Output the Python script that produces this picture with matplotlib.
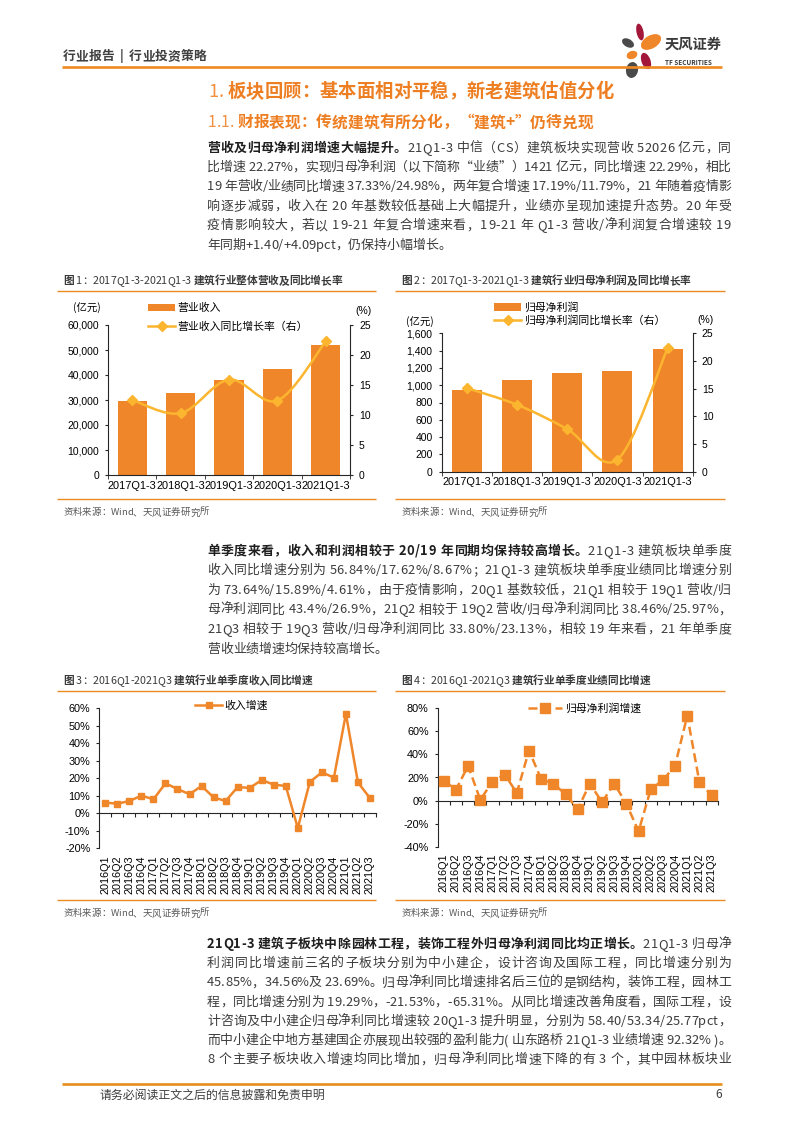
import numpy as np
import matplotlib
matplotlib.use('Agg')
import matplotlib.pyplot as plt
from matplotlib.font_manager import FontProperties
from matplotlib.lines import Line2D
from matplotlib.patches import Ellipse, PathPatch
from matplotlib.path import Path
from matplotlib.ticker import FuncFormatter

# 数据
years = ['2017Q1-3', '2018Q1-3', '2019Q1-3', '2020Q1-3', '2021Q1-3']
revenue = [29700, 32900, 38000, 42600, 52026]          # 营业收入（亿元）
revenue_yoy = [12.5, 10.3, 15.9, 12.4, 22.27]          # 营业收入同比（%）
profit = [945, 1060, 1141, 1162, 1421]                 # 归母净利润（亿元）
profit_yoy = [15.1, 12.1, 7.7, 2.2, 22.29]             # 归母净利润同比（%）

quarters = ['2016Q1', '2016Q2', '2016Q3', '2016Q4', '2017Q1', '2017Q2', '2017Q3', '2017Q4',
            '2018Q1', '2018Q2', '2018Q3', '2018Q4', '2019Q1', '2019Q2', '2019Q3', '2019Q4',
            '2020Q1', '2020Q2', '2020Q3', '2020Q4', '2021Q1', '2021Q2', '2021Q3']
rev_q_yoy = [6.1, 5.5, 7.0, 10.1, 8.0, 17.1, 13.9, 10.9, 15.6, 9.1, 7.0, 15.0,
             14.5, 19.0, 16.4, 15.6, -8.4, 17.9, 23.4, 20.4, 56.84, 17.62, 8.67]
profit_q_yoy = [17.1, 9.5, 30.1, 0.6, 16.5, 22.6, 6.7, 43.4, 18.5, 14.7, 5.5, -7.5,
                14.7, -1.4, 14.7, -2.9, -26.6, 9.8, 17.6, 30.4, 73.64, 15.89, 4.61]

CJK = ['Noto Sans CJK SC', 'DejaVu Sans']
LAT = ['Liberation Sans', 'Noto Sans CJK SC', 'DejaVu Sans']
plt.rcParams['font.family'] = LAT
plt.rcParams['axes.unicode_minus'] = False

ORANGE = '#F0862A'
GOLD = '#FBB52F'
RULE = '#EE8A22'
TEXT = '#3C3C3C'
DARK = '#1E1E1E'
AXC = '#262626'

W, H = 793, 1122
fig = plt.figure(figsize=(W / 100, H / 100), dpi=100)
page = fig.add_axes([0, 0, 1, 1])
page.set_xlim(0, W)
page.set_ylim(H, 0)
page.axis('off')
R = fig.canvas.get_renderer()


def box(l, t, r, b):
    return [l / W, 1 - b / H, (r - l) / W, (b - t) / H]


_adv = {}


def advance(ch, size, weight):
    key = (ch, size, weight)
    if key not in _adv:
        fp = FontProperties(family=CJK, size=size, weight=weight)
        w1 = R.get_text_width_height_descent('x' + ch + 'x', fp, ismath=False)[0]
        w0 = R.get_text_width_height_descent('xx', fp, ismath=False)[0]
        _adv[key] = w1 - w0
    return _adv[key]


def rich(x, yc, segs, size, right=None):
    # segs: (文本, 粗细, 颜色)；按字符排布，可两端对齐
    chars = [(ch, wt, col) for txt, wt, col in segs for ch in txt]
    advs = [advance(ch, size, wt) for ch, wt, _ in chars]
    extra = 0
    if right is not None and len(chars) > 1:
        extra = (right - x - sum(advs)) / (len(chars) - 1)
    y = yc + 0.36 * size * 100 / 72
    cx = x
    for (ch, wt, col), a in zip(chars, advs):
        if ch != ' ':
            page.text(cx, y, ch, fontsize=size, fontweight=wt, color=col,
                      family=CJK, ha='left', va='baseline')
        cx += a + extra


def para(x, y0, step, lines, size=9.3, right=731, last_ragged=True):
    for i, ln in enumerate(lines):
        if isinstance(ln, str):
            ln = [(ln, 'normal', TEXT)]
        r = None if (last_ragged and i == len(lines) - 1) else right
        rich(x, y0 + i * step, ln, size, right=r)


def rule(x0, x1, y, lw=1.0, color=RULE):
    page.plot([x0, x1], [y, y], color=color, lw=lw, solid_capstyle='butt')


# 页眉
rich(63, 55.7, [('行业报告  |  行业投资策略', 'bold', '#404040')], 9.2)
rule(62, 722, 67, lw=1.9)
for (cx, cy, w, h, a, c) in [(640, 32, 7, 17, -12, '#A3173A'), (628, 43, 13, 8, 30, '#4A4A4A'),
                             (651, 42, 22, 13, -30, ORANGE), (632, 55, 11, 8, -20, ORANGE),
                             (646, 61, 9, 17, -20, '#A3173A'), (632, 70, 12, 16, 10, '#4A4A4A')]:
    page.add_patch(Ellipse((cx, cy), w, h, angle=a, color=c, lw=0))
page.text(665, 45, '天风证券', fontsize=10.3, fontweight='bold', color='#3A3A3A',
          family=CJK, ha='left', va='center')
page.text(665, 62, 'TF SECURITIES', fontsize=4.6, fontweight='bold', color='#3A3A3A',
          family=CJK, ha='left', va='center')

# 标题
rich(208, 90, [('1. ', 'normal', '#F09040'),
               ('板块回顾：基本面相对平稳，新老建筑估值分化', 'bold', '#EE7E22')], 13.2)
rich(208, 121.7, [('1.1. ', 'normal', '#F09040'),
                  ('财报表现：传统建筑有所分化，“建筑+”仍待兑现', 'bold', '#EE7E22')], 11.3)

# 正文 1
para(207, 147, 19.4, [
    [('营收及归母净利润增速大幅提升。', 'bold', DARK),
     ('21Q1-3 中信（CS）建筑板块实现营收 52026 亿元，同', 'normal', TEXT)],
    '比增速 22.27%，实现归母净利润（以下简称“业绩”）1421 亿元，同比增速 22.29%，相比',
    '19 年营收/业绩同比增速 37.33%/24.98%，两年复合增速 17.19%/11.79%，21 年随着疫情影',
    '响逐步减弱，收入在 20 年基数较低基础上大幅提升，业绩亦呈现加速提升态势。20 年受',
    '疫情影响较大，若以 19-21 年复合增速来看，19-21 年 Q1-3 营收/净利润复合增速较 19',
    '年同期+1.40/+4.09pct，仍保持小幅增长。',
])

# 正文 2
para(207, 550, 19.6, [
    [('单季度来看，收入和利润相较于 20/19 年同期均保持较高增长。', 'bold', DARK),
     ('21Q1-3 建筑板块单季度', 'normal', TEXT)],
    '收入同比增速分别为 56.84%/17.62%/8.67%；21Q1-3 建筑板块单季度业绩同比增速分别',
    '为 73.64%/15.89%/4.61%，由于疫情影响，20Q1 基数较低，21Q1 相较于 19Q1 营收/归',
    '母净利润同比 43.4%/26.9%，21Q2 相较于 19Q2 营收/归母净利润同比 38.46%/25.97%，',
    '21Q3 相较于 19Q3 营收/归母净利润同比 33.80%/23.13%，相较 19 年来看，21 年单季度',
    '营收业绩增速均保持较高增长。',
])

# 正文 3
para(207, 943, 19.3, [
    [('21Q1-3 建筑子板块中除园林工程，装饰工程外归母净利润同比均正增长。', 'bold', DARK),
     ('21Q1-3 归母净', 'normal', TEXT)],
    '利润同比增速前三名的子板块分别为中小建企，设计咨询及国际工程，同比增速分别为',
    '45.85%，34.56%及 23.69%。归母净利同比增速排名后三位的是钢结构，装饰工程，园林工',
    '程，同比增速分别为 19.29%，-21.53%，-65.31%。从同比增速改善角度看，国际工程，设',
    '计咨询及中小建企归母净利同比增速较 20Q1-3 提升明显，分别为 58.40/53.34/25.77pct，',
    '而中小建企中地方基建国企亦展现出较强的盈利能力( 山东路桥 21Q1-3 业绩增速 92.32% )。',
    '8 个主要子板块收入增速均同比增加，归母净利同比增速下降的有 3 个，其中园林板块业',
], last_ragged=False)

# 页脚
rule(62, 722, 1084, lw=1.9, color='#E58E1C')
page.text(100, 1095, '请务必阅读正文之后的信息披露和免责申明', fontsize=8.6, color='#404040',
          family=CJK, ha='left', va='center')
page.text(722, 1095, '6', fontsize=8.6, color='#404040', family=CJK, ha='right', va='center')


# 图表框架
def frame(x0, x1, ytitle, ybottom, segs):
    rule(x0, x1, ytitle + 11)
    rule(x0, x1, ybottom)
    rich(x0 + 6, ytitle, segs, 7.7)
    rich(x0 + 6, ybottom + 13, [('资料来源：Wind、天风证券研究所', 'normal', '#595959')], 6.8)


def title_segs(num, period, name):
    return [('图 ', 'bold', '#3A3A3A'), (num + '：' + period + ' ', 'normal', '#3A3A3A'),
            (name, 'bold', '#3A3A3A')]


frame(57, 376, 280, 499, title_segs('1', '2017Q1-3-2021Q1-3', '建筑行业整体营收及同比增长率'))
frame(395, 725, 280, 499, title_segs('2', '2017Q1-3-2021Q1-3', '建筑行业归母净利润及同比增长率'))
frame(57, 376, 680, 900, title_segs('3', '2016Q1-2021Q3', '建筑行业单季度收入同比增速'))
frame(395, 725, 680, 900, title_segs('4', '2016Q1-2021Q3', '建筑行业单季度业绩同比增速'))


def smooth_path(xs, ys):
    pts = np.column_stack([xs, ys]).astype(float)
    verts, codes = [pts[0]], [Path.MOVETO]
    n = len(pts)
    for i in range(n - 1):
        p0 = pts[i - 1] if i > 0 else pts[i]
        p1, p2 = pts[i], pts[i + 1]
        p3 = pts[i + 2] if i + 2 < n else pts[i + 1]
        verts += [p1 + (p2 - p0) / 6, p2 - (p3 - p1) / 6, p2]
        codes += [Path.CURVE4] * 3
    return Path(verts, codes)


def key(handle, label, x, y, length, size=7.8):
    fig.legend([handle], [label], loc='center left', bbox_to_anchor=(x, y),
               bbox_transform=page.transData, frameon=False, borderpad=0,
               borderaxespad=0, handlelength=length / (size * 100 / 72),
               handletextpad=0.25, prop=FontProperties(family=CJK, size=size))


def bar_line_chart(rect, cats, bars, line, ymax, ystep, fmt_bar, bar_label, line_label,
                   leg_x, leg_y1, leg_y2, unit_xy, pct_xy):
    ax = fig.add_axes(rect)
    x = np.arange(len(cats))
    bc = ax.bar(x, bars, width=0.6, color=ORANGE, zorder=2)
    ax.set_xlim(-0.5, len(cats) - 0.5)
    ax.set_ylim(0, ymax)
    ax.set_yticks(np.arange(0, ymax + 1, ystep))
    ax.yaxis.set_major_formatter(FuncFormatter(fmt_bar))
    ax.set_xticks(x, cats)
    ax.set_xticks(np.arange(-0.5, len(cats)), minor=True)
    ax.tick_params(axis='x', which='major', length=0, pad=4, labelsize=7.9, colors='black')
    ax.tick_params(axis='x', which='minor', length=3, direction='out', color=AXC)
    ax.tick_params(axis='y', length=2.5, pad=4, labelsize=7.5, colors='black')
    ax.tick_params(axis='y', color=AXC)
    for s in ['top', 'right']:
        ax.spines[s].set_visible(False)
    for s in ['left', 'bottom']:
        ax.spines[s].set_color(AXC)
        ax.spines[s].set_linewidth(0.8)
    ax.patch.set_alpha(0)

    ax2 = ax.twinx()
    ax2.set_ylim(0, 25)
    ax2.set_yticks(np.arange(0, 26, 5))
    ax2.add_patch(PathPatch(smooth_path(x, line), fill=False, edgecolor=GOLD, lw=1.8, zorder=3))
    ax2.plot(x, line, linestyle='none', marker='D', ms=5, color=GOLD, zorder=4)
    ax2.tick_params(axis='y', length=2.5, pad=4, labelsize=7.5, colors='black')
    ax2.tick_params(axis='y', color=AXC)
    for s in ['top', 'left', 'bottom']:
        ax2.spines[s].set_visible(False)
    ax2.spines['right'].set_color(AXC)
    ax2.spines['right'].set_linewidth(0.8)

    key(bc, bar_label, leg_x, leg_y1, 27)
    key(Line2D([], [], color=GOLD, lw=1.8, marker='D', ms=5), line_label, leg_x, leg_y2, 27)
    page.text(*unit_xy, '(亿元)', fontsize=7.5, ha='center', va='center', family=CJK)
    page.text(*pct_xy, '(%)', fontsize=7.5, ha='center', va='center')


bar_line_chart(box(108, 325, 350, 475), years, revenue, revenue_yoy, 60000, 10000,
               lambda v, p: f'{v:,.0f}', '营业收入', '营业收入同比增长率（右）',
               148, 308.3, 326.7, (87, 308), (364, 311))
bar_line_chart(box(441.7, 333.3, 692.7, 471.7), years, profit, profit_yoy, 1600, 200,
               lambda v, p: f'{v:,.0f}', '归母净利润', '归母净利润同比增长率（右）',
               494, 307.3, 320, (420, 322), (705, 320))


def quarter_chart(rect, vals, ymin, ymax, ystep, line_kw, label, leg_x, leg_y, leg_len):
    ax = fig.add_axes(rect)
    x = np.arange(len(quarters))
    ln, = ax.plot(x, vals, color=ORANGE, marker='s', zorder=3, **line_kw)
    ax.set_xlim(-0.5, len(quarters) - 0.5)
    ax.set_ylim(ymin, ymax)
    ax.set_yticks(np.arange(ymin, ymax + 1, ystep))
    ax.yaxis.set_major_formatter(FuncFormatter(lambda v, p: f'{v:.0f}%'))
    ax.set_xticks(x, quarters, rotation=90)
    ax.tick_params(axis='x', length=0, pad=5, labelsize=7.8, colors='black')
    ax.tick_params(axis='y', length=2.5, pad=4, labelsize=7.8, colors='black')
    ax.tick_params(axis='y', color=AXC)
    for s in ['top', 'right', 'bottom']:
        ax.spines[s].set_visible(False)
    ax.spines['left'].set_color(AXC)
    ax.spines['left'].set_linewidth(0.8)
    ax.patch.set_alpha(0)
    sec = ax.secondary_xaxis(-ymin / (ymax - ymin))
    sec.set_xticks(np.arange(0.5, len(quarters)))
    sec.tick_params(length=3, direction='out', color=AXC, labelbottom=False, labeltop=False)
    for s in sec.spines.values():
        s.set_color(AXC)
        s.set_linewidth(0.8)
    key(ln, label, leg_x, leg_y, leg_len)


quarter_chart(box(99.3, 708.3, 376, 848.3), rev_q_yoy, -20, 60, 10,
              dict(lw=1.8, ms=5), '收入增速', 195, 706, 27)
quarter_chart(box(437.7, 708.3, 717.7, 846.7), profit_q_yoy, -40, 80, 20,
              dict(lw=1.8, ms=7, linestyle=(0, (3.6, 1.8))), '归母净利润增速', 528, 708, 34)

fig.savefig('out.png', dpi=100)
